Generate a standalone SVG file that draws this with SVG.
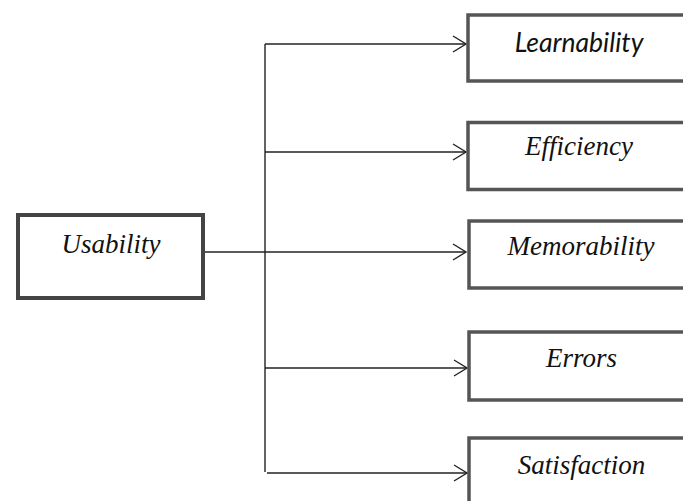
<svg xmlns="http://www.w3.org/2000/svg" width="683" height="501" viewBox="0 0 683 501">
<style>
.box{fill:#fff;stroke:#555;stroke-width:3.5}
.main{fill:#fff;stroke:#444;stroke-width:4}
.lbl{font-family:"Liberation Serif","Times New Roman",serif;font-style:italic;font-size:27px;fill:#111;text-anchor:middle}
.sans{font-family:Lato,"Open Sans","Liberation Sans",sans-serif;font-style:italic;font-size:26.5px;fill:#111;text-anchor:middle}
.con{fill:none;stroke:#222;stroke-width:1.4}
</style>
<defs>
<marker id="arr" markerWidth="16" markerHeight="18" refX="14" refY="9" orient="auto" markerUnits="userSpaceOnUse">
<path d="M1,1 L14,9 L1,17" fill="none" stroke="#222" stroke-width="1.4"/>
</marker>
</defs>
<rect width="683" height="501" fill="#fff"/>
<g id="connectors">
<line class="con" x1="205" y1="252" x2="466" y2="252" marker-end="url(#arr)"/>
<line class="con" x1="265" y1="44" x2="265" y2="472"/>
<line class="con" x1="265" y1="44" x2="466" y2="44" marker-end="url(#arr)"/>
<line class="con" x1="265" y1="152" x2="466" y2="152" marker-end="url(#arr)"/>
<line class="con" x1="265" y1="368" x2="467" y2="368" marker-end="url(#arr)"/>
<line class="con" x1="267" y1="473" x2="467" y2="473" marker-end="url(#arr)"/>
</g>
<g id="usability">
<rect class="main" x="18" y="215" width="185" height="83"/>
<text class="lbl" x="111" y="253">Usability</text>
</g>
<g id="learnability">
<rect class="box" x="468" y="15" width="230" height="66"/>
<text class="sans" x="579" y="52">Learnability</text>
</g>
<g id="efficiency">
<rect class="box" x="468" y="122.5" width="230" height="67"/>
<text class="lbl" x="579" y="155">Efficiency</text>
</g>
<g id="memorability">
<rect class="box" x="469" y="221" width="230" height="67"/>
<text class="lbl" x="581" y="255">Memorability</text>
</g>
<g id="errors">
<rect class="box" x="469" y="332" width="230" height="68"/>
<text class="lbl" x="581.5" y="367">Errors</text>
</g>
<g id="satisfaction">
<rect class="box" x="469" y="438" width="230" height="80"/>
<text class="lbl" x="581.5" y="474">Satisfaction</text>
</g>
</svg>
